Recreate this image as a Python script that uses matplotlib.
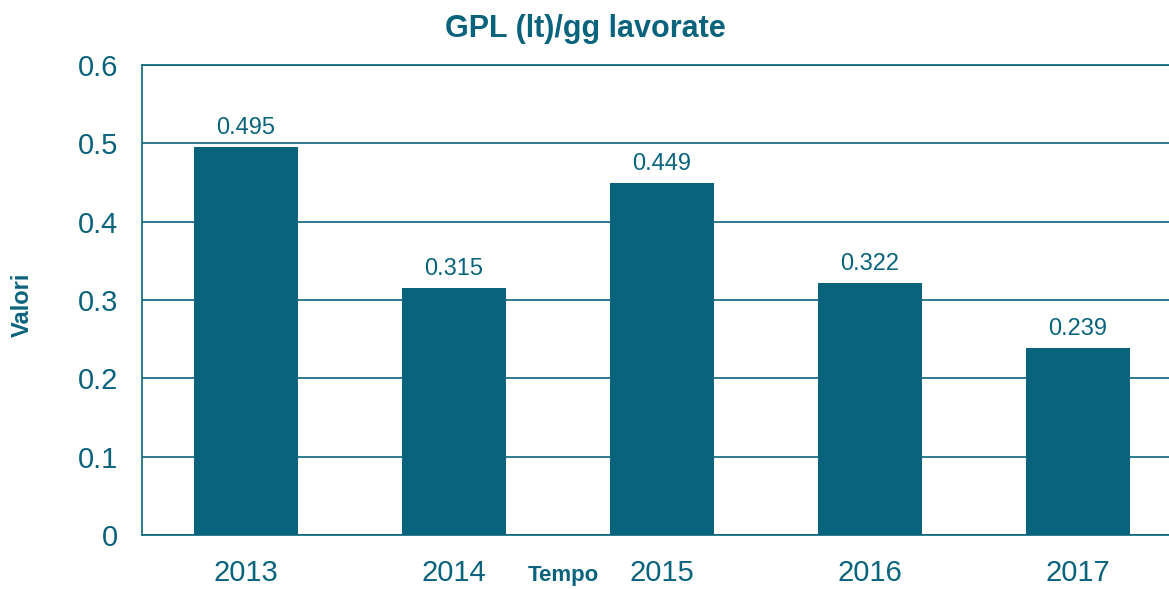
import matplotlib.pyplot as plt

plt.rcParams['font.family'] = ['Liberation Sans', 'DejaVu Sans']

years = ['2013', '2014', '2015', '2016', '2017']
values = [0.495, 0.315, 0.449, 0.322, 0.239]
teal = '#0a637c'

fig = plt.figure(figsize=(11.69, 5.89), dpi=100)
ax = fig.add_axes([142 / 1169, 1 - 535 / 589, 1040 / 1169, 470 / 589])

x = range(len(years))
ax.bar(x, values, width=0.5, color=teal, zorder=3)
for i, v in zip(x, values):
    ax.text(i, v + 0.01, f'{v:g}', ha='center', va='bottom', fontsize=17, color=teal)

ax.set_xlim(-0.5, 4.5)
ax.set_ylim(0, 0.6)
ax.set_yticks([0, 0.1, 0.2, 0.3, 0.4, 0.5, 0.6])
ax.set_yticklabels(['0', '0.1', '0.2', '0.3', '0.4', '0.5', '0.6'])
ax.set_xticks(list(x))
ax.set_xticklabels(years)
ax.tick_params(axis='both', length=0, labelsize=21, labelcolor=teal)
ax.tick_params(axis='y', pad=17)
ax.tick_params(axis='x', pad=17)
ax.yaxis.grid(True, color=teal, linewidth=1.2, zorder=0)
for s in ax.spines.values():
    s.set_color(teal)
    s.set_linewidth(1.2)

fig.text(585 / 1169, 1 - 29 / 589, 'GPL (lt)/gg lavorate', ha='center', va='center',
         fontsize=22, fontweight='bold', color=teal)
fig.text(22 / 1169, 1 - 305 / 589, 'Valori', ha='center', va='center', rotation=90,
         fontsize=17, fontweight='bold', color=teal)
fig.text(563 / 1169, 1 - 576 / 589, 'Tempo', ha='center', va='center',
         fontsize=16, fontweight='bold', color=teal)

fig.savefig('out.png', dpi=100)
